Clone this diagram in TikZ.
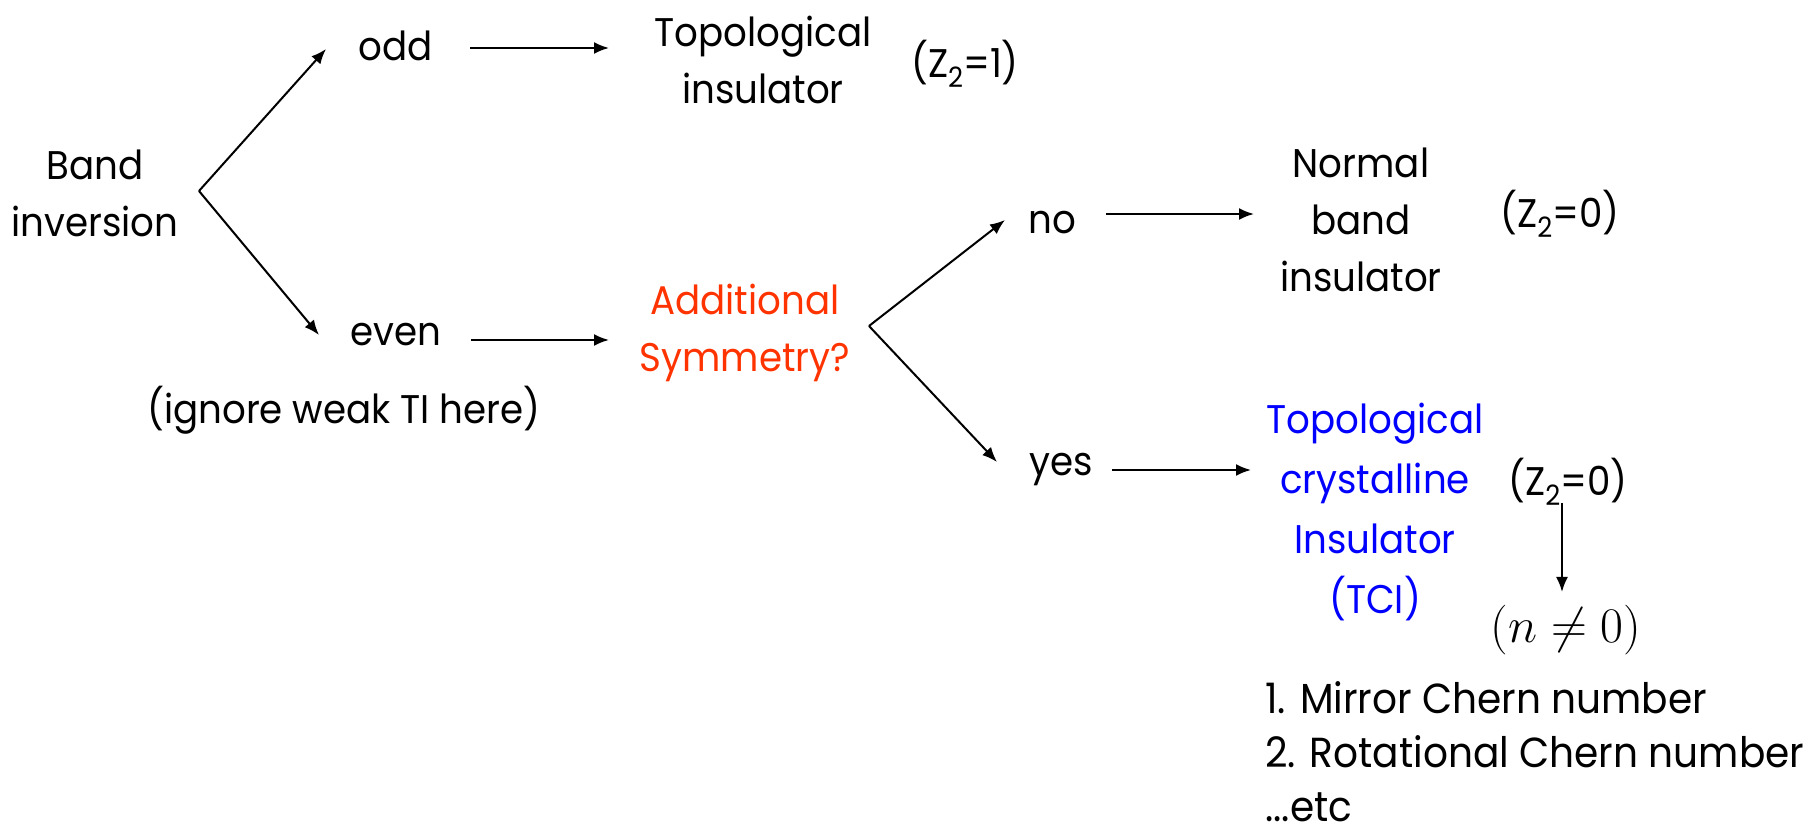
\documentclass[tikz,border=0pt]{standalone}
\usepackage{fontspec}
\setmainfont{Poppins}[FakeStretch=0.93]
\usetikzlibrary{arrows.meta}
\definecolor{redorange}{RGB}{255,51,0}
\definecolor{tciblue}{RGB}{0,0,255}
\newcommand{\zsub}{\raisebox{-0.45ex}{\fontsize{14}{14}\selectfont 2}}
\begin{document}
\begin{tikzpicture}[x=0.5pt,y=-0.5pt,
  every node/.style={font=\fontsize{20}{28.5}\selectfont, inner sep=0pt, align=center},
  arr/.style={-{Latex[length=7.5pt,width=6pt]}, line width=1pt}]
\useasboundingbox (0,0) rectangle (1812,838);
% text nodes
\node (band) at (95,193) {Band\\inversion};
\node (odd) at (396,46) {odd};
\node (even) at (396,335) {even};
\node (ign) at (344,410) {(ignore weak TI here)};
\node (ti) at (763,60) {Topological\\insulator};
\node (z1) at (965,64) {(Z\zsub=1)};
\node[text=redorange] (add) at (745,333) {Additional\\Symmetry?};
\node (no) at (1052,223) {no};
\node (yes) at (1061,470) {yes};
\node (nbi) at (1361,220) {Normal\\band\\insulator};
\node (z0a) at (1560,214) {(Z\zsub=0)};
\node[text=tciblue, font=\fontsize{20}{30}\selectfont] (tci) at (1375,512) {Topological\\crystalline\\Insulator\\(TCI)};
\node (z0b) at (1568,482) {(Z\zsub=0)};
\node[font=\fontsize{24}{28}\selectfont] (nz) at (1566,630) {$(n\neq 0)$};
\node[anchor=west, align=left, font=\fontsize{21}{27}\selectfont] (list) at (1265,752) {1. Mirror Chern number\\2. Rotational Chern number\\...etc};
% connector coordinates
\coordinate (v1) at (199,191);
\coordinate (oddin) at (326,49);
\coordinate (evenin) at (319,335);
\coordinate (oddout) at (470,48);
\coordinate (tiin) at (609,48);
\coordinate (evenout) at (471,340);
\coordinate (addin) at (609,340);
\coordinate (v2) at (869,326);
\coordinate (noin) at (1005,220);
\coordinate (yesin) at (997,462);
\coordinate (noout) at (1106,214);
\coordinate (nbiin) at (1254,214);
\coordinate (yesout) at (1112,470);
\coordinate (tciin) at (1251,470);
\coordinate (z0bout) at (1562,503);
\coordinate (nzin) at (1562,592);
% connectors
\draw[arr] (v1) -- (oddin);
\draw[arr] (v1) -- (evenin);
\draw[arr] (oddout) -- (tiin);
\draw[arr] (evenout) -- (addin);
\draw[arr] (v2) -- (noin);
\draw[arr] (v2) -- (yesin);
\draw[arr] (noout) -- (nbiin);
\draw[arr] (yesout) -- (tciin);
\draw[arr] (z0bout) -- (nzin);
\end{tikzpicture}
\end{document}
